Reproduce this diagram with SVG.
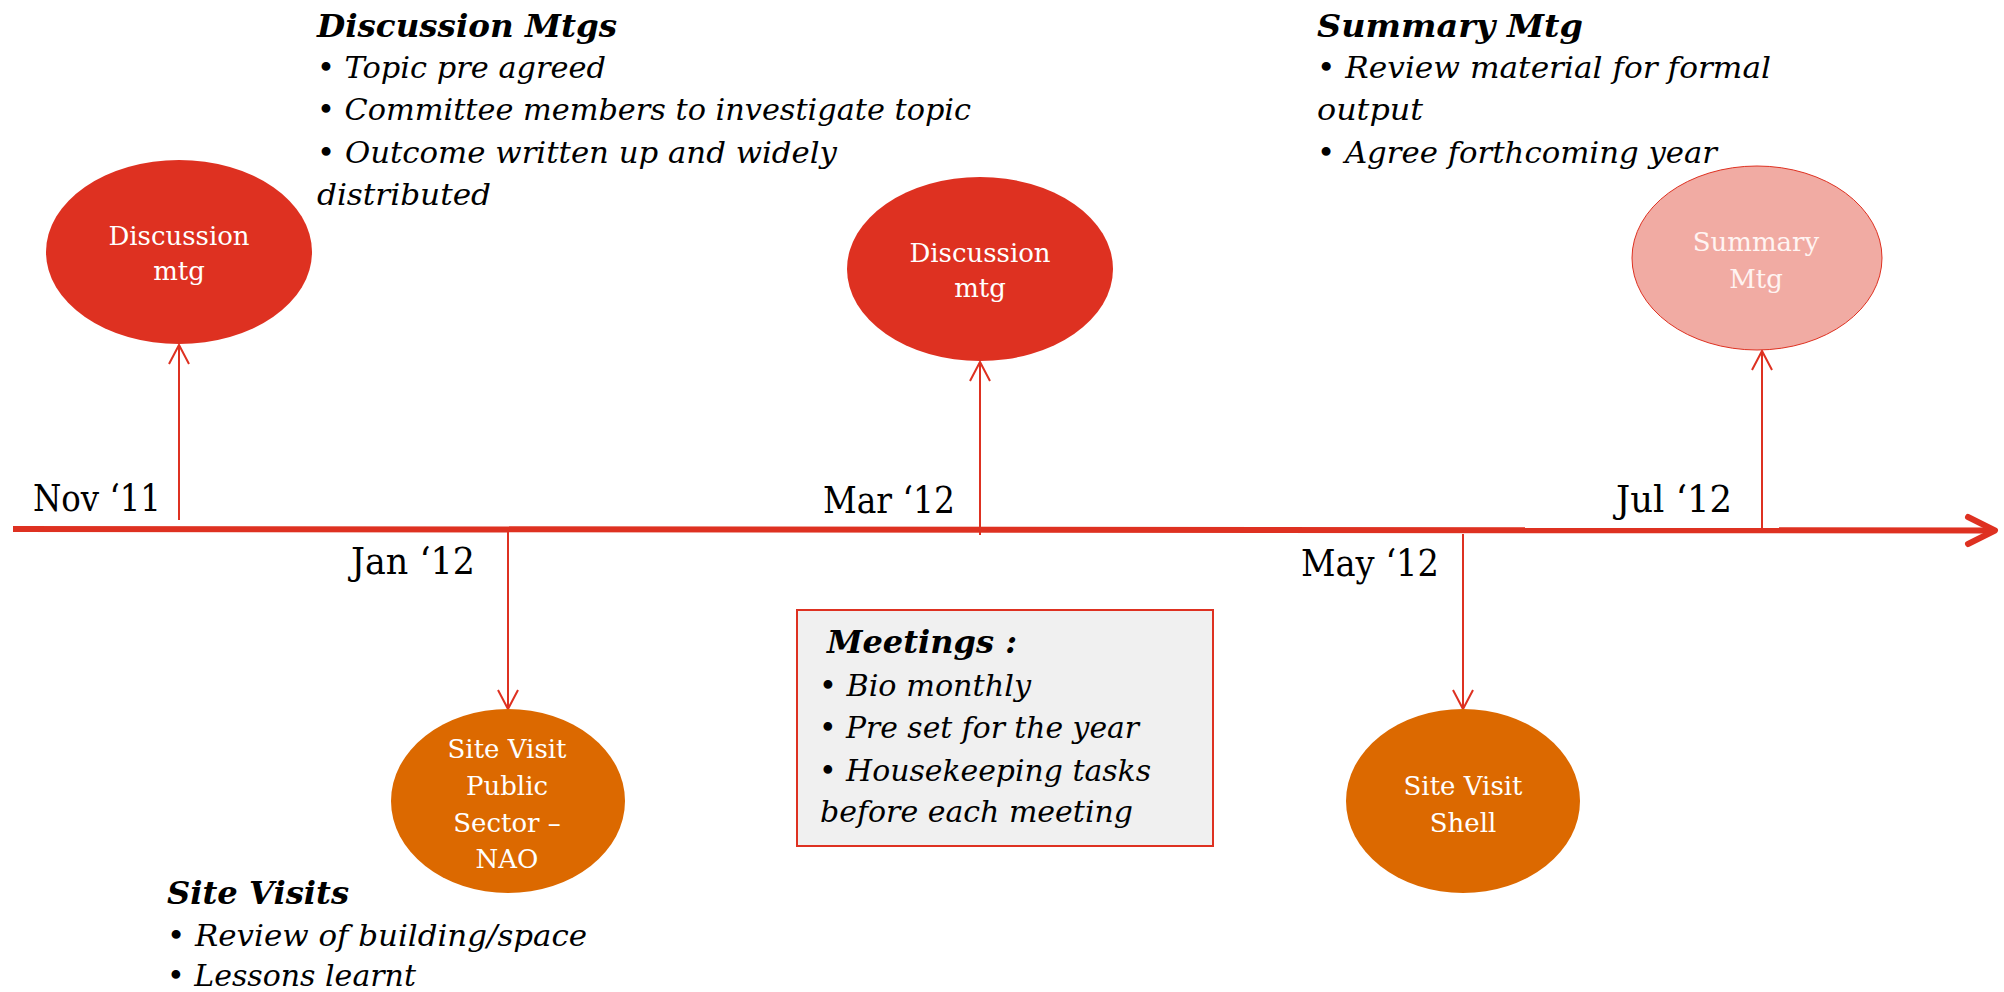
<svg xmlns="http://www.w3.org/2000/svg" width="2004" height="992" viewBox="0 0 2004 992">
<style>
.t{font-family:"DejaVu Serif","Liberation Serif",serif;fill:#000}
.h{font-size:32px;font-weight:bold;font-style:italic}
.b{font-size:30.5px;font-style:italic}
.d{font-size:37px}
.n{font-family:"DejaVu Serif","Liberation Serif",serif;font-size:26px;fill:#fff;text-anchor:middle}
.c{stroke:#DE3121;stroke-width:2;fill:none}
</style>
<defs>
<marker id="ah" viewBox="-2 -2 24 24" refX="19" refY="10" markerWidth="24" markerHeight="24" markerUnits="userSpaceOnUse" orient="auto">
<path d="M0,0 L19,10 L0,20" fill="none" stroke="#DE3121" stroke-width="2"/>
</marker>
</defs>
<rect width="2004" height="992" fill="#fff"/>
<g id="connectors">
<line x1="13" y1="529" x2="1994" y2="530.5" stroke="#DE3121" stroke-width="6"/>
<path d="M1968,517 L1995,530.5 L1968,544" fill="none" stroke="#DE3121" stroke-width="6" stroke-linecap="round" stroke-linejoin="round"/>
<line class="c" x1="179" y1="520" x2="179" y2="345" marker-end="url(#ah)"/>
<line class="c" x1="980" y1="535" x2="980" y2="362" marker-end="url(#ah)"/>
<line class="c" x1="1762" y1="529" x2="1762" y2="351" marker-end="url(#ah)"/>
<line class="c" x1="508" y1="532" x2="508" y2="709" marker-end="url(#ah)"/>
<line class="c" x1="1463" y1="534" x2="1463" y2="709" marker-end="url(#ah)"/>
</g>
<g id="node-disc1">
<ellipse cx="179" cy="252" rx="133" ry="92" fill="#DE3121"/>
<text class="n" x="179" y="245">Discussion</text>
<text class="n" x="179" y="280">mtg</text>
</g>
<g id="node-disc2">
<ellipse cx="980" cy="269" rx="133" ry="92" fill="#DE3121"/>
<text class="n" x="980" y="262">Discussion</text>
<text class="n" x="980" y="297">mtg</text>
</g>
<g id="node-summary">
<ellipse cx="1757" cy="258" rx="125" ry="92" fill="#F1ABA3" stroke="#DE3121" stroke-width="1"/>
<text class="n" x="1756" y="251" fill="#FFF4F2" style="fill:#FFF4F2">Summary</text>
<text class="n" x="1756" y="288" style="fill:#FFF4F2">Mtg</text>
</g>
<g id="node-site1">
<ellipse cx="508" cy="801" rx="117" ry="92" fill="#DC6900"/>
<text class="n" x="507" y="758">Site Visit</text>
<text class="n" x="507" y="795">Public</text>
<text class="n" x="507" y="832">Sector –</text>
<text class="n" x="507" y="868">NAO</text>
</g>
<g id="node-site2">
<ellipse cx="1463" cy="801" rx="117" ry="92" fill="#DC6900"/>
<text class="n" x="1463" y="795">Site Visit</text>
<text class="n" x="1463" y="832">Shell</text>
</g>
<g id="labels">
<text class="t d" x="33" y="511" textLength="128" lengthAdjust="spacingAndGlyphs">Nov ‘11</text>
<text class="t d" x="823" y="513" textLength="132" lengthAdjust="spacingAndGlyphs">Mar ‘12</text>
<text class="t d" x="1616" y="512" textLength="116" lengthAdjust="spacingAndGlyphs">Jul ‘12</text>
<text class="t d" x="351" y="574" textLength="124" lengthAdjust="spacingAndGlyphs">Jan ‘12</text>
<text class="t d" x="1301" y="576" textLength="138" lengthAdjust="spacingAndGlyphs">May ‘12</text>
</g>
<g id="note-discussion">
<text class="t h" x="317" y="37" textLength="300" lengthAdjust="spacingAndGlyphs">Discussion Mtgs</text>
<text class="t b" x="317" y="78" textLength="289" lengthAdjust="spacingAndGlyphs">• Topic pre agreed</text>
<text class="t b" x="317" y="120" textLength="654" lengthAdjust="spacingAndGlyphs">• Committee members to investigate topic</text>
<text class="t b" x="317" y="163" textLength="520" lengthAdjust="spacingAndGlyphs">• Outcome written up and widely</text>
<text class="t b" x="317" y="205" textLength="174" lengthAdjust="spacingAndGlyphs">distributed</text>
</g>
<g id="note-summary">
<text class="t h" x="1317" y="37" textLength="266" lengthAdjust="spacingAndGlyphs">Summary Mtg</text>
<text class="t b" x="1317" y="78" textLength="454" lengthAdjust="spacingAndGlyphs">• Review material for formal</text>
<text class="t b" x="1317" y="120" textLength="106" lengthAdjust="spacingAndGlyphs">output</text>
<text class="t b" x="1317" y="163" textLength="400" lengthAdjust="spacingAndGlyphs">• Agree forthcoming year</text>
</g>
<g id="note-meetings">
<rect x="797" y="610" width="416" height="236" fill="#F0F0F0" stroke="#DE3121" stroke-width="2"/>
<text class="t h" x="827" y="653" textLength="190" lengthAdjust="spacingAndGlyphs">Meetings :</text>
<text class="t b" x="819" y="696" textLength="212" lengthAdjust="spacingAndGlyphs">• Bio monthly</text>
<text class="t b" x="819" y="738" textLength="320" lengthAdjust="spacingAndGlyphs">• Pre set for the year</text>
<text class="t b" x="819" y="781" textLength="332" lengthAdjust="spacingAndGlyphs">• Housekeeping tasks</text>
<text class="t b" x="820" y="822" textLength="313" lengthAdjust="spacingAndGlyphs">before each meeting</text>
</g>
<g id="note-sites">
<text class="t h" x="167" y="904" textLength="182" lengthAdjust="spacingAndGlyphs">Site Visits</text>
<text class="t b" x="167" y="946" textLength="420" lengthAdjust="spacingAndGlyphs">• Review of building/space</text>
<text class="t b" x="167" y="986" textLength="249" lengthAdjust="spacingAndGlyphs">• Lessons learnt</text>
</g>
</svg>
